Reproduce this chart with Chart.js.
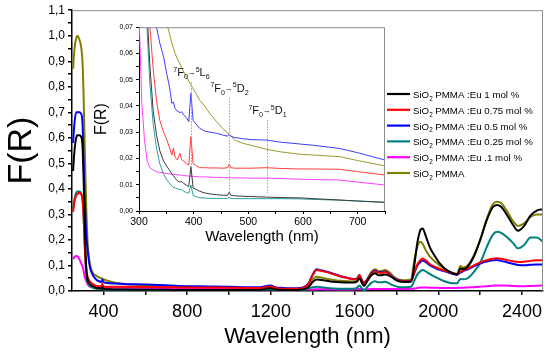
<!DOCTYPE html>
<html>
<head>
<meta charset="utf-8">
<script src="https://cdn.jsdelivr.net/npm/chart.js@4"></script>
<style>
  body { margin: 0; background: #fff; }
  #wrap { position: relative; width: 550px; height: 352px; }
  #main { position: absolute; left: 0; top: 0; }
  #inset { position: absolute; left: 90px; top: 20px; }
</style>
</head>
<body>
<div id="wrap">
  <canvas id="main" width="550" height="352"></canvas>
  <canvas id="inset" width="300" height="230"></canvas>
</div>
<script>
// ---- data: main spectrum ----
const seriesLabels = [
  "SiO₂ PMMA :Eu 1 mol %",
  "SiO₂ PMMA :Eu 0.75 mol %",
  "SiO₂ PMMA :Eu 0.5 mol %",
  "SiO₂ PMMA :Eu 0.25 mol %",
  "SiO₂ PMMA :Eu .1 mol %",
  "SiO₂ PMMA"
];

const mainWl = [255, 262, 270, 277, 285, 293, 300, 305, 310, 315,
  320, 326, 333, 340, 350, 365, 380, 390, 395, 400,
  420, 450, 500, 600, 700, 800, 900, 1000, 1100, 1150,
  1180, 1200, 1220, 1260, 1300, 1350, 1380, 1400, 1419, 1440,
  1467, 1500, 1530, 1565, 1594, 1612, 1623, 1634, 1645, 1660,
  1680, 1698, 1714, 1730, 1746, 1765, 1785, 1810, 1840, 1870,
  1885, 1900, 1915, 1925, 1940, 1960, 1985, 2010, 2040, 2070,
  2090, 2105, 2120, 2140, 2170, 2200, 2230, 2260, 2280, 2300,
  2330, 2360, 2380, 2410, 2440, 2470, 2500];

const mainEu1 = [0.47, 0.55, 0.60, 0.61, 0.61, 0.605, 0.57, 0.45, 0.30, 0.15,
  0.07, 0.04, 0.029, 0.023, 0.018, 0.013, 0.011, 0.0095, 0.017, 0.0088,
  0.007, 0.006, 0.0055, 0.005, 0.0045, 0.004, 0.004, 0.004, 0.004, 0.004,
  0.009, 0.011, 0.006, 0.004, 0.004, 0.006, 0.015, 0.035, 0.045, 0.043,
  0.04, 0.036, 0.034, 0.033, 0.033, 0.037, 0.05, 0.033, 0.02, 0.038,
  0.062, 0.07, 0.062, 0.062, 0.065, 0.06, 0.05, 0.038, 0.035, 0.037,
  0.1, 0.19, 0.24, 0.245, 0.215, 0.17, 0.135, 0.105, 0.082, 0.07,
  0.065, 0.088, 0.086, 0.095, 0.135, 0.2, 0.275, 0.328, 0.337, 0.33,
  0.295, 0.255, 0.236, 0.255, 0.295, 0.315, 0.32];

const mainEu075 = [0.31, 0.35, 0.375, 0.38, 0.385, 0.38, 0.36, 0.30, 0.20, 0.11,
  0.075, 0.052, 0.04, 0.033, 0.027, 0.021, 0.019, 0.0175, 0.028, 0.0175,
  0.0165, 0.0164, 0.0163, 0.016, 0.015, 0.014, 0.014, 0.013, 0.012, 0.012,
  0.016, 0.018, 0.012, 0.009, 0.009, 0.011, 0.028, 0.062, 0.082, 0.079,
  0.074, 0.065, 0.058, 0.051, 0.046, 0.049, 0.062, 0.044, 0.031, 0.044,
  0.066, 0.077, 0.072, 0.071, 0.074, 0.066, 0.05, 0.041, 0.037, 0.04,
  0.072, 0.105, 0.122, 0.127, 0.12, 0.105, 0.094, 0.085, 0.077, 0.069,
  0.067, 0.075, 0.081, 0.088, 0.1, 0.112, 0.121, 0.126, 0.128, 0.126,
  0.121, 0.116, 0.114, 0.115, 0.118, 0.12, 0.121];

const mainEu05 = [0.58, 0.66, 0.70, 0.70, 0.70, 0.695, 0.66, 0.52, 0.38, 0.27,
  0.2, 0.15, 0.105, 0.08, 0.062, 0.045, 0.038, 0.035, 0.045, 0.035,
  0.031, 0.0295, 0.0275, 0.0255, 0.0225, 0.019, 0.018, 0.017, 0.015, 0.015,
  0.02, 0.022, 0.015, 0.012, 0.011, 0.013, 0.03, 0.065, 0.085, 0.081,
  0.076, 0.067, 0.059, 0.052, 0.047, 0.05, 0.063, 0.045, 0.032, 0.045,
  0.068, 0.08, 0.074, 0.073, 0.076, 0.068, 0.052, 0.042, 0.038, 0.04,
  0.07, 0.1, 0.115, 0.119, 0.113, 0.1, 0.09, 0.082, 0.075, 0.066,
  0.064, 0.072, 0.078, 0.085, 0.097, 0.107, 0.115, 0.12, 0.121, 0.118,
  0.112, 0.106, 0.102, 0.101, 0.103, 0.104, 0.104];

const mainEu025 = [0.32, 0.36, 0.385, 0.39, 0.39, 0.385, 0.36, 0.30, 0.20, 0.10,
  0.05, 0.033, 0.022, 0.017, 0.012, 0.009, 0.0075, 0.0068, 0.0099, 0.006,
  0.0049, 0.0048, 0.0047, 0.0046, 0.0038, 0.0035, 0.0035, 0.0035, 0.0035, 0.0035,
  0.006, 0.007, 0.004, 0.003, 0.003, 0.004, 0.01, 0.015, 0.017, 0.015,
  0.012, 0.01, 0.009, 0.009, 0.009, 0.013, 0.022, 0.01, 0.003, 0.015,
  0.032, 0.038, 0.034, 0.034, 0.036, 0.03, 0.022, 0.016, 0.015, 0.017,
  0.04, 0.065, 0.078, 0.082, 0.077, 0.066, 0.055, 0.045, 0.035, 0.03,
  0.03, 0.047, 0.046, 0.05, 0.075, 0.11, 0.17, 0.22, 0.232, 0.228,
  0.21, 0.185, 0.167, 0.18, 0.21, 0.21, 0.193];

const mainEu01 = [0.125, 0.133, 0.137, 0.136, 0.125, 0.11, 0.097, 0.08, 0.06, 0.045,
  0.035, 0.025, 0.019, 0.016, 0.0145, 0.014, 0.0135, 0.0133, 0.0133, 0.0132,
  0.013, 0.0128, 0.0126, 0.012, 0.011, 0.0095, 0.009, 0.008, 0.007, 0.007,
  0.0075, 0.008, 0.007, 0.006, 0.006, 0.006, 0.006, 0.006, 0.007, 0.007,
  0.006, 0.006, 0.006, 0.006, 0.006, 0.007, 0.008, 0.007, 0.006, 0.007,
  0.008, 0.008, 0.008, 0.008, 0.008, 0.008, 0.008, 0.008, 0.008, 0.009,
  0.01, 0.012, 0.014, 0.014, 0.014, 0.013, 0.013, 0.012, 0.012, 0.012,
  0.012, 0.013, 0.013, 0.014, 0.015, 0.017, 0.019, 0.021, 0.022, 0.022,
  0.021, 0.02, 0.019, 0.019, 0.02, 0.021, 0.022];

const mainPmma = [0.87, 0.95, 0.99, 1.0, 0.985, 0.96, 0.9, 0.78, 0.6, 0.42,
  0.28, 0.17, 0.12, 0.09, 0.07, 0.06, 0.053, 0.05, 0.048, 0.046,
  0.04, 0.033, 0.027, 0.022, 0.019, 0.016, 0.014, 0.013, 0.011, 0.011,
  0.015, 0.017, 0.011, 0.008, 0.008, 0.01, 0.02, 0.045, 0.056, 0.053,
  0.048, 0.043, 0.04, 0.038, 0.037, 0.042, 0.056, 0.038, 0.024, 0.045,
  0.075, 0.085, 0.077, 0.079, 0.082, 0.074, 0.058, 0.045, 0.042, 0.045,
  0.12, 0.175, 0.193, 0.185, 0.16, 0.135, 0.115, 0.097, 0.082, 0.069,
  0.067, 0.098, 0.092, 0.1, 0.14, 0.2, 0.28, 0.34, 0.35, 0.345,
  0.31, 0.27, 0.255, 0.265, 0.29, 0.3, 0.3];

const mainXTicks = [400, 600, 800, 1000, 1200, 1400, 1600, 1800, 2000, 2200, 2400];
const mainYTicks = [0, 0.05, 0.1, 0.15, 0.2, 0.25, 0.3, 0.35, 0.4, 0.45, 0.5, 0.55,
  0.6, 0.65, 0.7, 0.75, 0.8, 0.85, 0.9, 0.95, 1.0, 1.05, 1.1];

// ---- data: inset (visible range) ----
const insetWl = [300, 305, 310, 315, 320, 326, 332, 338, 345, 351,
  356, 360, 363, 366, 370, 375, 378, 382, 387, 391,
  395, 399, 405, 411, 420, 430, 442, 455, 462, 465,
  468, 475, 490, 505, 533, 560, 595, 620, 667, 700,
  750];

const insetEu1 = [0.3, 0.2, 0.12, 0.075, 0.055, 0.038, 0.029, 0.023, 0.019, 0.017,
  0.0155, 0.014, 0.0135, 0.0125, 0.0115, 0.011, 0.0112, 0.0105, 0.0098, 0.0093,
  0.0169, 0.0088, 0.0082, 0.0075, 0.0069, 0.0065, 0.0062, 0.006, 0.006, 0.0071,
  0.006, 0.0058, 0.0056, 0.0055, 0.0053, 0.0051, 0.005, 0.0047, 0.0042, 0.0038,
  0.0033];

const insetEu075 = [0.3, 0.2, 0.13, 0.09, 0.07, 0.054, 0.042, 0.0346, 0.03, 0.027,
  0.024, 0.0213, 0.024, 0.0205, 0.0195, 0.022, 0.0195, 0.019, 0.018, 0.0175,
  0.0283, 0.018, 0.0172, 0.0165, 0.0165, 0.0164, 0.0164, 0.0163, 0.0165, 0.0179,
  0.0165, 0.0163, 0.0163, 0.0163, 0.0165, 0.0162, 0.016, 0.016, 0.0159, 0.015,
  0.0137];

const insetEu05 = [0.35, 0.25, 0.18, 0.13, 0.1, 0.082, 0.07, 0.064, 0.0587, 0.052,
  0.047, 0.041, 0.0415, 0.039, 0.038, 0.0375, 0.0378, 0.0365, 0.0355, 0.034,
  0.0448, 0.0345, 0.033, 0.0315, 0.0305, 0.03, 0.0296, 0.0288, 0.0285, 0.0293,
  0.0284, 0.028, 0.0275, 0.0272, 0.027, 0.0262, 0.0255, 0.025, 0.0238, 0.0222,
  0.0194];

const insetEu025 = [0.3, 0.18, 0.11, 0.068, 0.048, 0.033, 0.024, 0.018, 0.014, 0.0118,
  0.0105, 0.0095, 0.009, 0.0088, 0.0085, 0.008, 0.0082, 0.0075, 0.007, 0.0068,
  0.0099, 0.006, 0.0054, 0.0051, 0.0049, 0.0048, 0.0048, 0.0048, 0.0048, 0.0052,
  0.0048, 0.0047, 0.0047, 0.0047, 0.0047, 0.0047, 0.0046, 0.0044, 0.0041, 0.0038,
  0.0033];

const insetEu01 = [0.075, 0.042, 0.027, 0.019, 0.0165, 0.0156, 0.015, 0.0147, 0.0145, 0.0143,
  0.0141, 0.014, 0.014, 0.0139, 0.0138, 0.0137, 0.0136, 0.0135, 0.0134, 0.0133,
  0.0133, 0.0132, 0.0131, 0.013, 0.013, 0.0129, 0.0128, 0.0127, 0.0127, 0.0127,
  0.0127, 0.0126, 0.0126, 0.0125, 0.0125, 0.0124, 0.0121, 0.012, 0.0118, 0.011,
  0.0099];

const insetPmma = [0.3, 0.22, 0.17, 0.14, 0.12, 0.105, 0.092, 0.083, 0.076, 0.071,
  0.0675, 0.064, 0.062, 0.06, 0.058, 0.056, 0.0545, 0.053, 0.051, 0.0495,
  0.048, 0.0465, 0.0445, 0.0422, 0.040, 0.037, 0.034, 0.031, 0.0298, 0.0293,
  0.0288, 0.027, 0.0258, 0.025, 0.0235, 0.0225, 0.0216, 0.0213, 0.0207, 0.0192,
  0.0172];

const insetXTicks = [300, 350, 400, 450, 500, 550, 600, 650, 700, 750];
const insetYTicks = [0, 0.005, 0.01, 0.015, 0.02, 0.025, 0.03, 0.035, 0.04, 0.045,
  0.05, 0.055, 0.06, 0.065, 0.07];

// Eu3+ transitions marked in the inset
const transitionLabels = ["⁷F₀→⁵L₆", "⁷F₀→⁵D₂", "⁷F₀→⁵D₁"];
const transitionWl = [395, 465, 535];
const transitionTop = [0.049, 0.043, 0.0346];
const transitionBottom = [0.0165, 0.0072, 0.0068];

// ---- helpers ----
const FONT = "'Liberation Sans', Arial, sans-serif";
const mainColors = ["#000000", "#ff0000", "#0000ff", "#008080", "#ff00ff", "#808000"];
const insetColors = ["#3a3a3a", "#ff3c3c", "#3c3cff", "#2aa0a0", "#ff40ff", "#9a9a2a"];

function pts(xs, ys) {
  return xs.map((x, i) => ({ x: x, y: ys[i] }));
}

const SUP = { "⁰": "0", "¹": "1", "²": "2", "³": "3", "⁴": "4", "⁵": "5", "⁶": "6", "⁷": "7", "⁸": "8", "⁹": "9" };
const SUB = { "₀": "0", "₁": "1", "₂": "2", "₃": "3", "₄": "4", "₅": "5", "₆": "6", "₇": "7", "₈": "8", "₉": "9" };

// draws text with unicode super/subscripts as real small raised/lowered glyphs
function richText(ctx, text, x, y, size, measureOnly) {
  let cx = x;
  for (const ch of text) {
    let t = ch, dy = 0, s = size;
    if (SUP[ch]) { t = SUP[ch]; s = size * 0.65; dy = -size * 0.42; }
    else if (SUB[ch]) { t = SUB[ch]; s = size * 0.65; dy = size * 0.28; }
    else if (ch === "→") { s = size * 0.7; dy = -size * 0.12; }
    ctx.font = s + "px " + FONT;
    if (!measureOnly) ctx.fillText(t, cx, y + dy);
    cx += ctx.measureText(t).width;
  }
  return cx - x;
}

const framePlugin = {
  id: "frame",
  afterDraw(chart) {
    const { ctx, chartArea: a } = chart;
    ctx.save();
    ctx.strokeStyle = "#8c8c8c";
    ctx.lineWidth = 1;
    ctx.beginPath();
    ctx.moveTo(a.left, a.top + 0.5);
    ctx.lineTo(a.right - 0.5, a.top + 0.5);
    ctx.lineTo(a.right - 0.5, a.bottom);
    ctx.stroke();
    ctx.restore();
  }
};

const legendPlugin = {
  id: "richLegend",
  afterDraw(chart) {
    const ctx = chart.ctx;
    ctx.save();
    chart.data.datasets.forEach((ds, i) => {
      const y = 94 + i * 15.8;
      ctx.strokeStyle = ds.borderColor;
      ctx.lineWidth = 2.2;
      ctx.beginPath();
      ctx.moveTo(387, y);
      ctx.lineTo(410, y);
      ctx.stroke();
      ctx.fillStyle = "#000";
      ctx.textBaseline = "alphabetic";
      richText(ctx, ds.label, 413, y + 4, 9.7);
    });
    ctx.restore();
  }
};

const transitionPlugin = {
  id: "transitions",
  afterDatasetsDraw(chart) {
    const { ctx, scales: { x, y } } = chart;
    ctx.save();
    transitionWl.forEach((wl, i) => {
      const px = Math.round(x.getPixelForValue(wl)) + 0.5;
      const top = y.getPixelForValue(transitionTop[i]);
      const bot = y.getPixelForValue(transitionBottom[i]);
      ctx.strokeStyle = "#9a9a9a";
      ctx.lineWidth = 1;
      ctx.setLineDash([1.5, 1.5]);
      ctx.beginPath();
      ctx.moveTo(px, top);
      ctx.lineTo(px, bot);
      ctx.stroke();
      ctx.setLineDash([]);
      ctx.fillStyle = "#111";
      const w = richText(ctx, transitionLabels[i], 0, 0, 11, true);
      richText(ctx, transitionLabels[i], px - w / 2, top - 6, 11);
    });
    ctx.restore();
  }
};

// ---- main chart ----
new Chart(document.getElementById("main"), {
  type: "line",
  data: {
    datasets: seriesLabels.map((label, i) => ({
      label: label,
      data: pts(mainWl, [mainEu1, mainEu075, mainEu05, mainEu025, mainEu01, mainPmma][i]),
      borderColor: mainColors[i],
      borderWidth: 2,
      pointRadius: 0,
      cubicInterpolationMode: "monotone",
      fill: false
    }))
  },
  options: {
    responsive: false,
    animation: false,
    layout: { padding: { top: 10, right: 7, left: 0, bottom: 0 } },
    plugins: { legend: { display: false }, tooltip: { enabled: false } },
    scales: {
      x: {
        type: "linear", min: 250, max: 2500,
        afterBuildTicks: s => { s.ticks = mainXTicks.map(v => ({ value: v })); },
        afterFit: s => { s.height = 61; },
        grid: { drawOnChartArea: false, drawTicks: true, tickLength: 4, color: "#000", lineWidth: 1.5 },
        border: { display: true, color: "#000", width: 1.5 },
        ticks: {
          autoSkip: false, maxRotation: 0, padding: 6, color: "#000",
          font: { family: FONT, size: 18 },
          callback: v => (v % 400 === 0 ? String(v) : "")
        },
        title: { display: true, text: "Wavelength (nm)", color: "#000",
          font: { family: FONT, size: 22 }, padding: { top: 0, bottom: 2 } }
      },
      y: {
        min: 0, max: 1.1,
        afterBuildTicks: s => { s.ticks = mainYTicks.map(v => ({ value: v })); },
        afterFit: s => { s.width = 72; },
        grid: { drawOnChartArea: false, drawTicks: true, tickLength: 4, color: "#000", lineWidth: 1.5 },
        border: { display: true, color: "#000", width: 1.5 },
        ticks: {
          autoSkip: false, padding: 3, color: "#000",
          font: { family: FONT, size: 12 },
          callback: v => (Math.round(v * 100) % 10 === 0 ? v.toFixed(1).replace(".", ",") : "")
        },
        title: { display: true, text: "F(R)", color: "#000",
          font: { family: FONT, size: 34, lineHeight: 1 }, padding: { top: 5, bottom: 0 } }
      }
    }
  },
  plugins: [framePlugin, legendPlugin]
});

// ---- inset chart ----
new Chart(document.getElementById("inset"), {
  type: "line",
  data: {
    datasets: seriesLabels.map((label, i) => ({
      label: label,
      data: pts(insetWl, [insetEu1, insetEu075, insetEu05, insetEu025, insetEu01, insetPmma][i]),
      borderColor: insetColors[i],
      borderWidth: 1,
      pointRadius: 0,
      tension: 0,
      fill: false
    }))
  },
  options: {
    responsive: false,
    animation: false,
    layout: { padding: { top: 7, right: 5, left: 0, bottom: 0 } },
    plugins: { legend: { display: false }, tooltip: { enabled: false } },
    scales: {
      x: {
        type: "linear", min: 300, max: 750,
        afterBuildTicks: s => { s.ticks = insetXTicks.map(v => ({ value: v })); },
        afterFit: s => { s.height = 39; },
        grid: { drawOnChartArea: false, drawTicks: true, tickLength: 3, color: "#000" },
        border: { display: true, color: "#000", width: 1 },
        ticks: {
          autoSkip: false, maxRotation: 0, padding: 2, color: "#000",
          font: { family: FONT, size: 10.5 },
          callback: v => (v % 100 === 0 ? String(v) : "")
        },
        title: { display: true, text: "Wavelength (nm)", color: "#000",
          font: { family: FONT, size: 15 }, padding: { top: 0, bottom: 4 } }
      },
      y: {
        min: 0, max: 0.07,
        afterBuildTicks: s => { s.ticks = insetYTicks.map(v => ({ value: v })); },
        afterFit: s => { s.width = 49; },
        grid: { drawOnChartArea: false, drawTicks: true, tickLength: 3, color: "#000" },
        border: { display: true, color: "#000", width: 1 },
        ticks: {
          autoSkip: false, padding: 3, color: "#000",
          font: { family: FONT, size: 7 },
          callback: v => (Math.round(v * 1000) % 10 === 0 ? v.toFixed(2).replace(".", ",") : "")
        },
        title: { display: true, text: "F(R)", color: "#000",
          font: { family: FONT, size: 16 }, padding: { top: 2, bottom: 0 } }
      }
    }
  },
  plugins: [framePlugin, transitionPlugin]
});
</script>
</body>
</html>
